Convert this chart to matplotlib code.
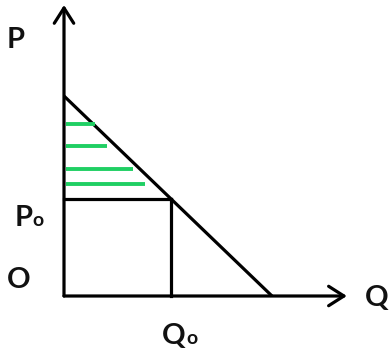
import matplotlib.pyplot as plt

plt.rcParams['font.family'] = ['Lato', 'DejaVu Sans']

# Demand curve (linear), equilibrium point, consumer-surplus hatch lines
demand_q = [0, 10]
demand_p = [10, 0]
q0 = 5.15
p0 = 4.85
hatch_p = [8.6, 7.5, 6.35, 5.6]
hatch_q_end = [1.5, 2.05, 3.3, 3.9]
q_axis_max = 13.6
p_axis_max = 14.55

fig = plt.figure(figsize=(3.89, 3.52), dpi=100)
ax = fig.add_axes([0, 0, 1, 1])
ax.set_xlim(-3.077, 15.625)
ax.set_ylim(-2.8, 14.8)
ax.axis('off')

lw = 2.3
arrow = dict(arrowstyle='->,head_length=0.55,head_width=0.35', lw=lw,
             color='black', mutation_scale=20, shrinkA=0, shrinkB=0)

# axes with open arrowheads
ax.annotate('', xy=(q_axis_max, 0), xytext=(0, 0), arrowprops=arrow)
ax.annotate('', xy=(0, p_axis_max), xytext=(0, 0), arrowprops=arrow)

# demand line
ax.plot(demand_q, demand_p, color='black', lw=lw, solid_capstyle='butt')

# price / quantity rectangle
ax.plot([0, q0], [p0, p0], color='black', lw=lw)
ax.plot([q0, q0], [0, p0], color='black', lw=lw)

# green hatching for consumer surplus
for p, qe in zip(hatch_p, hatch_q_end):
    ax.plot([0.1, qe], [p, p], color='#1fcf63', lw=2.8, solid_capstyle='butt')

fs = 21
fs_small = 14
txt = dict(fontweight='bold', color='#111111')
ax.text(-2.31, 12.78, 'P', fontsize=fs, ha='center', va='center', **txt)
ax.text(-2.19, 0.8, 'O', fontsize=fs, ha='center', va='center', **txt)
ax.text(14.45, -0.1, 'Q', fontsize=fs, ha='left', va='center', **txt)

# P0 / Q0 labels: capital letter with a small "o" on the baseline
ax.text(-2.36, 3.5, 'P', fontsize=fs, ha='left', va='baseline', **txt)
ax.text(-1.5, 3.5, 'o', fontsize=fs_small, ha='left', va='baseline', **txt)
ax.text(4.71, -2.4, 'Q', fontsize=fs, ha='left', va='baseline', **txt)
ax.text(5.9, -2.4, 'o', fontsize=fs_small, ha='left', va='baseline', **txt)

fig.savefig('out.png', dpi=100)
